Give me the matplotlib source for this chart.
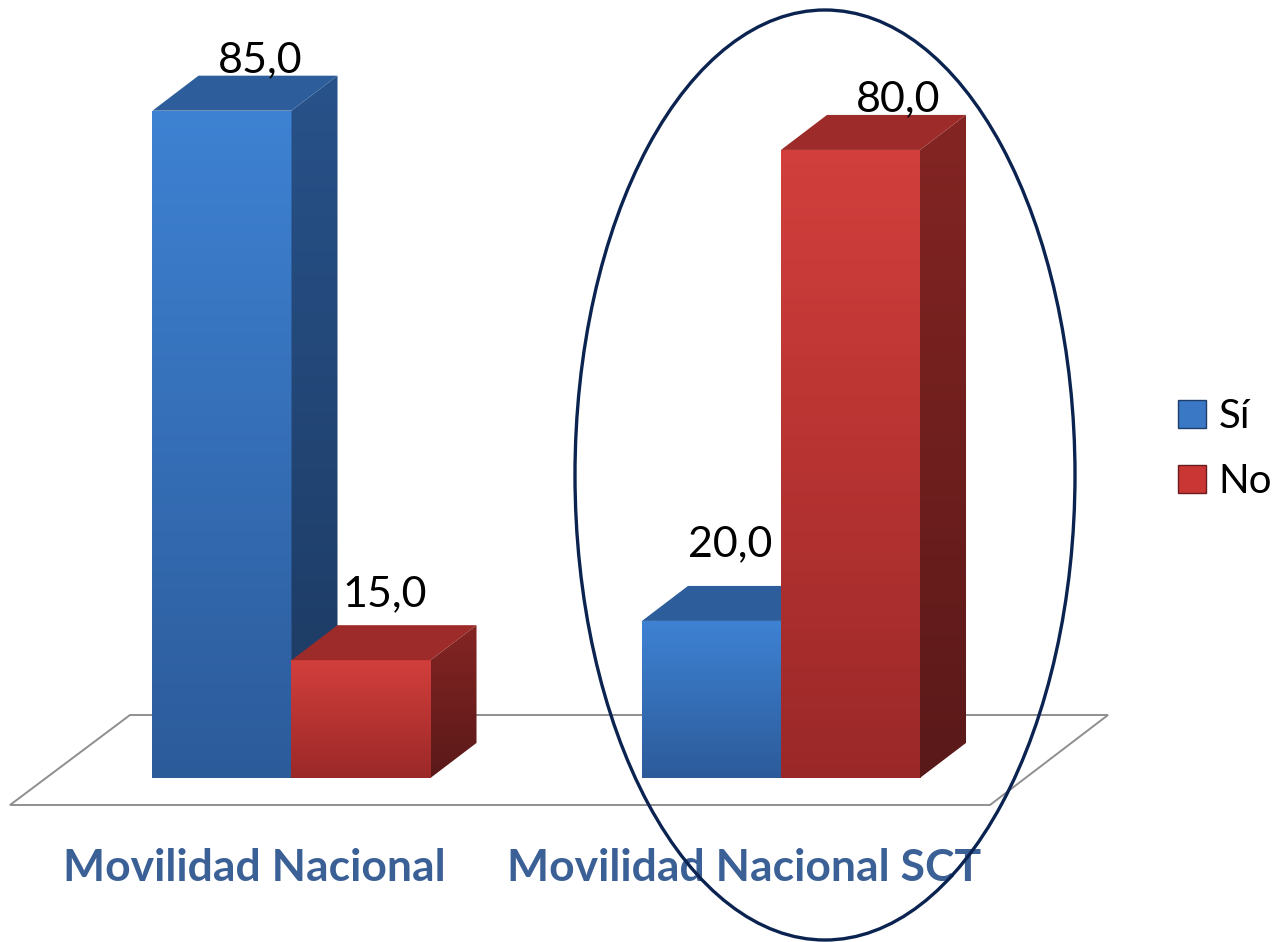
import numpy as np
import matplotlib.pyplot as plt
from matplotlib.patches import Polygon, Ellipse, Patch
from matplotlib.colors import LinearSegmentedColormap

# datos del grafico
categorias = ["Movilidad Nacional", "Movilidad Nacional SCT"]
series = ["Sí", "No"]
valores_si = [85.0, 20.0]
valores_no = [15.0, 80.0]

plt.rcParams['font.family'] = ['Lato', 'DejaVu Sans']

fig = plt.figure(figsize=(12.79, 9.42), dpi=100)
ax = fig.add_axes([0, 0, 1, 1])
ax.axis('off')

ancho = 0.284
dx = 0.094   # profundidad en x
dy = 4.46    # profundidad en y
px_x = 1 / 489.5   # un pixel en unidades de x
px_y = 1 / 7.85    # un pixel en unidades de y

estilos = {
    "Sí": dict(frente=("#3e82d3", "#2c5b9a"), tope="#2d5e9b",
               lado=("#28528a", "#1c3960"), legenda="#3a78c6", borde="#1f3f6a"),
    "No": dict(frente=("#d23f3c", "#9b2828"), tope="#9c2b29",
               lado=("#842523", "#5a1919"), legenda="#c93634", borde="#6a1c1c"),
}

# ajuste fino de las etiquetas (pixeles: derecha, arriba)
ajuste_si = [(38, 3), (19, 30)]
ajuste_no = [(24, 19), (48, 4)]


def gradiente(clip, extent, c_arriba, c_abajo, z):
    cmap = LinearSegmentedColormap.from_list('g', [c_abajo, c_arriba])
    img = ax.imshow(np.linspace(0, 1, 256).reshape(-1, 1), cmap=cmap, origin='lower',
                    extent=extent, aspect='auto', zorder=z, interpolation='bicubic')
    img.set_clip_path(clip)


def caja(x0, valor, est, ajuste, z):
    x1 = x0 + ancho
    # cara frontal con la barra normal
    rect = ax.bar(x0, valor, width=ancho, align='edge', color='none', edgecolor='none', zorder=z)[0]
    gradiente(rect, (x0, x1, 0, valor), est["frente"][0], est["frente"][1], z)
    # cara lateral
    lado = Polygon([(x1, 0), (x1 + dx, dy), (x1 + dx, valor + dy), (x1, valor)],
                   closed=True, facecolor='none', edgecolor='none', zorder=z)
    ax.add_patch(lado)
    gradiente(lado, (x1, x1 + dx, 0, valor + dy), est["lado"][0], est["lado"][1], z)
    # cara superior
    tope = Polygon([(x0, valor), (x1, valor), (x1 + dx, valor + dy), (x0 + dx, valor + dy)],
                   closed=True, facecolor=est["tope"], edgecolor='none', zorder=z)
    ax.add_patch(tope)
    texto = f"{valor:.1f}".replace('.', ',')
    ax.text(x0 + ancho / 2 + ajuste[0] * px_x, valor + dy + ajuste[1] * px_y, texto,
            ha='center', va='baseline', fontsize=31, color='black', zorder=z + 5)


# piso
piso = [(130, 715), (1108, 715), (990, 805), (10, 805)]
piso = [(px / 1279, 1 - py / 942) for px, py in piso]
ax.add_patch(Polygon(piso, closed=True, facecolor='white', edgecolor='#8f8f8f', lw=1.4,
                     transform=ax.transAxes, zorder=1))

x = np.arange(len(categorias))
for i in range(len(categorias)):
    caja(x[i] - ancho, valores_si[i], estilos["Sí"], ajuste_si[i], 2 + i * 2)
    caja(x[i], valores_no[i], estilos["No"], ajuste_no[i], 3 + i * 2)
    ax.text(x[i] - 0.075, -11.46, categorias[i], ha='center', va='center', fontsize=32,
            fontweight='bold', color='#3b6096', zorder=8)

ax.set_xlim(-0.5955, 2.0174)
ax.set_ylim(-20.9, 99.1)

# elipse que resalta la segunda categoria
ax.add_patch(Ellipse((825 / 1279, 1 - 475 / 942), 500 / 1279, 930 / 942, transform=ax.transAxes,
                     fill=False, edgecolor='#0b2350', lw=2.4, zorder=20))

handles = [Patch(facecolor=estilos[s]["legenda"], edgecolor=estilos[s]["borde"]) for s in series]
ax.legend(handles=handles, labels=series, loc='center left',
          bbox_to_anchor=(1178 / 1279, 1 - 449 / 942), frameon=False, fontsize=29,
          handlelength=0.7, handleheight=0.7, handletextpad=0.3, labelspacing=0.7,
          borderpad=0, borderaxespad=0)

fig.savefig("out.png", dpi=100)
